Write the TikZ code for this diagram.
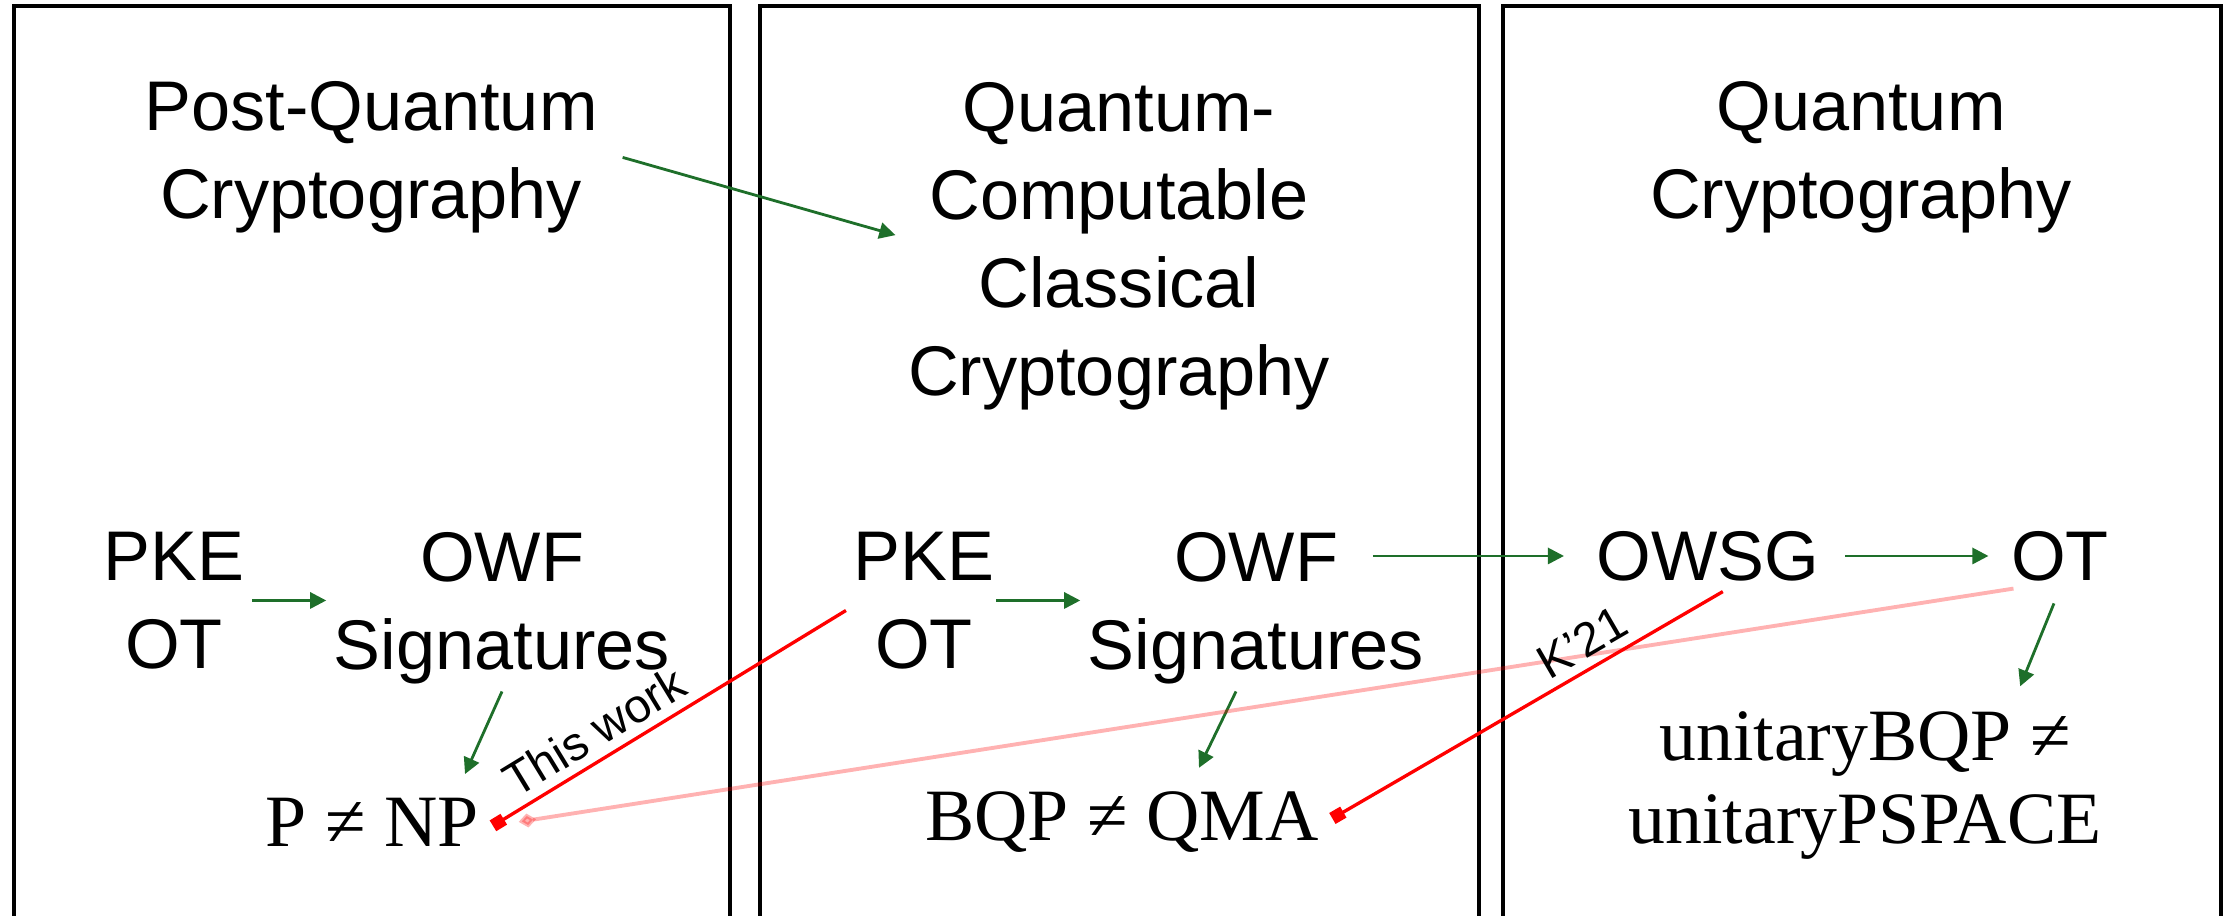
\documentclass[tikz,border=0pt]{standalone}
\usepackage{fontspec}
\setmainfont{Liberation Sans}
\newfontfamily\classfont{Liberation Serif}
\usepackage{tikz}
\usetikzlibrary{arrows.meta,calc,positioning}
\definecolor{implgreen}{HTML}{1E6F2A}
\definecolor{barred}{HTML}{FF0000}
\tikzset{
panel/.style={draw=black, line width=1.2pt},
crypto/.style={
	font=\fontsize{20}{25}\selectfont,
	align=center,
	inner sep=2pt
},
sepclass/.style={font=\classfont\fontsize{21}{23.6}\selectfont, align=center, inner sep=2pt},
implies/.style={-{Triangle[length=4.6pt,width=4.6pt]}, line width=0.8pt, draw=implgreen},
barrier/.style={-{Square[length=3.6pt,width=3.6pt]}, line width=0.95pt, draw=barred},
oldbarrier/.style={-{Diamond[length=5pt,width=4pt]}, line width=1.1pt, draw=barred, opacity=0.3},
reflabel/.style={font=\fontsize{13.5}{15}\selectfont, sloped, above, inner sep=2.5pt}
}

\begin{document}
\begin{tikzpicture}[x=1cm,y=1cm]
\useasboundingbox (0,0) rectangle (22.36,9.16);

% ── Three panels, open at the bottom ───────────────────────────
\draw[panel] (0.14,-0.2) |- (7.30,9.10) -- (7.30,-0.2);
\draw[panel] (7.60,-0.2) |- (14.79,9.10) -- (14.79,-0.2);
\draw[panel] (15.03,-0.2) |- (22.21,9.10) -- (22.21,-0.2);

% ── Panel headings ─────────────────────────────────────────────
\node[crypto] (pqHead) at (3.71,7.585) {Post-Quantum\\Cryptography};
\node[crypto] (qcHead) at (11.19,6.695) {Quantum-\\Computable\\Classical\\Cryptography};
\node[crypto] (qHead) at (18.61,7.585) {Quantum\\Cryptography};
\draw[implies, shorten <=1.8mm, shorten >=0.5mm] ([yshift=0.5mm]pqHead.east) -- ([yshift=1mm]qcHead.west);

% ── Post-quantum primitives ────────────────────────────────────
\node[crypto] (pqLow) at (1.74,3.155) {PKE\\OT};
\node[crypto] (pqHigh) at (5.02,3.08) {OWF\\Signatures};
\node[sepclass] (pqSep) at (3.72,0.94) {P ≠ NP};
\draw[implies] (pqLow.east) -- (pqLow.east -| pqHigh.west);
\draw[implies] (pqHigh.south) -- ([xshift=9.3mm,yshift=1.6mm]pqSep.north);

% ── Quantum-computable classical primitives ────────────────────
\node[crypto] (qcLow) at (9.24,3.155) {PKE\\OT};
\node[crypto] (qcHigh) at (12.56,3.08) {OWF\\Signatures};
\node[sepclass] (qcSep) at (11.22,0.94) {BQP ≠ QMA};
\draw[implies, shorten <=-0.6mm] (qcLow.east) -- (qcLow.east -| qcHigh.west);
\draw[implies] ([xshift=-2mm]qcHigh.south) -- ([xshift=7.7mm,yshift=1.6mm]qcSep.north);

% ── Quantum primitives ─────────────────────────────────────────
\node[crypto] (owsg) at (17.08,3.60) {OWSG};
\node[crypto] (qOt) at (20.60,3.60) {OT};
\node[sepclass] (unitary) at (18.65,1.305) {unitaryBQP ≠\\unitaryPSPACE};
\draw[implies, shorten >=2.5mm] ([xshift=-5.9mm]qcHigh.east |- owsg.west) -- (owsg.west);
\draw[implies, shorten <=1.8mm, shorten >=1.5mm] (owsg.east) -- (qOt.west);
\draw[implies, shorten <=1.6mm, shorten >=1.9mm] (qOt.south) -- ([xshift=14.8mm]unitary.north);

% ── Barriers ───────────────────────────────────────────────────
\draw[oldbarrier, shorten >=3.3mm] ([xshift=1mm]qOt.south west) -- ([yshift=-0.5mm]pqSep.east);
\draw[barrier, shorten >=0.8mm] ([yshift=-1mm]qcLow.west) -- ([yshift=-0.8mm]pqSep.east)
 node[reflabel, pos=0.66] (thisWork) {This work};
\draw[barrier, shorten <=0.6mm, shorten >=0.7mm] ([xshift=2mm]owsg.south) -- (qcSep.east)
 node[reflabel, pos=0.33] (kRef) {K’21};
\end{tikzpicture}
\end{document}
